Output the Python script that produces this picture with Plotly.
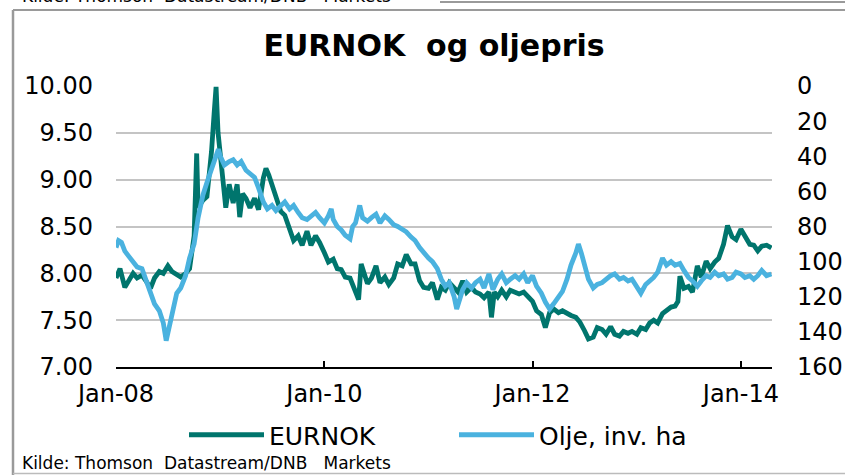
import plotly.graph_objects as go

# ---------------- data ----------------
eur_dates = [
    "2008-01-01", "2008-01-15", "2008-02-01", "2008-02-15", "2008-03-01", "2008-03-15",
    "2008-04-01", "2008-04-15", "2008-05-01", "2008-05-15", "2008-06-01", "2008-06-15",
    "2008-07-01", "2008-07-15", "2008-08-01", "2008-08-15", "2008-09-01", "2008-09-15",
    "2008-10-01", "2008-10-10", "2008-10-15", "2008-11-01", "2008-11-15", "2008-12-01",
    "2008-12-10", "2008-12-17", "2008-12-24", "2009-01-01", "2009-01-10", "2009-01-20",
    "2009-02-01", "2009-02-15", "2009-03-01", "2009-03-10", "2009-03-20", "2009-04-01",
    "2009-04-15", "2009-05-01", "2009-05-15", "2009-06-01", "2009-06-10", "2009-06-20",
    "2009-07-01", "2009-07-15", "2009-08-01", "2009-08-15", "2009-09-01", "2009-09-15",
    "2009-10-01", "2009-10-15", "2009-11-01", "2009-11-15", "2009-12-01", "2009-12-15",
    "2010-01-01", "2010-01-15", "2010-02-01", "2010-02-15", "2010-03-01", "2010-03-15",
    "2010-04-01", "2010-04-15", "2010-05-01", "2010-05-10", "2010-05-20", "2010-06-01",
    "2010-06-15", "2010-07-01", "2010-07-15", "2010-08-01", "2010-08-15", "2010-09-01",
    "2010-09-15", "2010-10-01", "2010-10-15", "2010-11-01", "2010-11-15", "2010-12-01",
    "2010-12-15", "2011-01-01", "2011-01-15", "2011-02-01", "2011-02-15", "2011-03-01",
    "2011-03-15", "2011-04-01", "2011-04-15", "2011-05-01", "2011-05-15", "2011-06-01",
    "2011-06-15", "2011-07-01", "2011-07-15", "2011-08-01", "2011-08-10", "2011-08-20",
    "2011-09-01", "2011-09-15", "2011-10-01", "2011-10-15", "2011-11-01", "2011-11-15",
    "2011-12-01", "2011-12-15", "2012-01-01", "2012-01-15", "2012-02-01", "2012-02-15",
    "2012-03-01", "2012-03-15", "2012-04-01", "2012-04-15", "2012-05-01", "2012-05-15",
    "2012-06-01", "2012-06-15", "2012-07-01", "2012-07-15", "2012-08-01", "2012-08-15",
    "2012-09-01", "2012-09-15", "2012-10-01", "2012-10-15", "2012-11-01", "2012-11-15",
    "2012-12-01", "2012-12-15", "2013-01-01", "2013-01-15", "2013-02-01", "2013-02-15",
    "2013-03-01", "2013-03-15", "2013-04-01", "2013-04-15", "2013-05-01", "2013-05-15",
    "2013-05-25", "2013-06-01", "2013-06-15", "2013-07-01", "2013-07-15", "2013-08-01",
    "2013-08-15", "2013-09-01", "2013-09-15", "2013-10-01", "2013-10-15", "2013-11-01",
    "2013-11-15", "2013-12-01", "2013-12-15", "2014-01-01", "2014-01-15", "2014-02-01",
    "2014-02-15", "2014-03-01", "2014-03-15", "2014-04-01", "2014-04-18",
]
eurnok = [
    7.95, 8.05, 7.85, 7.92, 8.00, 7.95,
    7.98, 7.92, 7.84, 7.95, 8.02, 8.00,
    8.08, 8.02, 7.98, 7.96, 8.00, 8.05,
    8.40, 9.28, 8.70, 8.78, 8.82, 9.30,
    9.70, 9.99, 9.50, 9.30, 9.00, 8.70,
    8.95, 8.75, 8.95, 8.60, 8.85, 8.80,
    8.70, 8.80, 8.68, 9.02, 9.12, 9.05,
    8.95, 8.80, 8.66, 8.62, 8.45, 8.35,
    8.40, 8.30, 8.45, 8.30, 8.40, 8.33,
    8.22, 8.12, 8.15, 8.05, 8.04, 7.96,
    7.95, 7.85, 7.72, 8.10, 8.00, 7.89,
    7.95, 8.08, 7.90, 7.96, 7.88, 7.95,
    8.10, 8.08, 8.20, 8.10, 8.10, 7.92,
    7.85, 7.84, 7.90, 7.72, 7.85, 7.82,
    7.90, 7.85, 7.80, 7.92, 7.80, 7.85,
    7.80, 7.78, 7.74, 7.80, 7.53, 7.80,
    7.75, 7.82, 7.75, 7.82, 7.80, 7.78,
    7.80, 7.75, 7.70, 7.60, 7.56, 7.42,
    7.58, 7.62, 7.58, 7.60, 7.57, 7.55,
    7.53, 7.48, 7.39, 7.30, 7.32, 7.42,
    7.40, 7.35, 7.43, 7.35, 7.33, 7.38,
    7.36, 7.38, 7.35, 7.42, 7.40, 7.47,
    7.50, 7.47, 7.57, 7.60, 7.64, 7.65,
    7.70, 7.97, 7.84, 7.86, 7.80, 8.08,
    7.96, 8.13, 8.05, 8.12, 8.16, 8.31,
    8.51, 8.39, 8.36, 8.47, 8.40, 8.31,
    8.30, 8.24, 8.29, 8.30, 8.27,
]

oil_dates = [
    "2008-01-01", "2008-01-10", "2008-01-20", "2008-02-01", "2008-02-15", "2008-03-01",
    "2008-03-15", "2008-04-01", "2008-04-15", "2008-05-01", "2008-05-15", "2008-06-01",
    "2008-06-15", "2008-06-25", "2008-07-05", "2008-07-15", "2008-08-01", "2008-08-15",
    "2008-09-01", "2008-09-15", "2008-10-01", "2008-10-15", "2008-11-01", "2008-11-15",
    "2008-12-01", "2008-12-15", "2008-12-25", "2009-01-01", "2009-01-15", "2009-02-01",
    "2009-02-15", "2009-03-01", "2009-03-15", "2009-04-01", "2009-04-15", "2009-05-01",
    "2009-05-15", "2009-06-01", "2009-06-15", "2009-07-01", "2009-07-15", "2009-08-01",
    "2009-08-15", "2009-09-01", "2009-09-15", "2009-10-01", "2009-10-15", "2009-11-01",
    "2009-11-15", "2009-12-01", "2009-12-15", "2010-01-01", "2010-01-15", "2010-01-25",
    "2010-02-01", "2010-02-15", "2010-03-01", "2010-03-15", "2010-04-01", "2010-04-10",
    "2010-04-20", "2010-05-01", "2010-05-05", "2010-05-15", "2010-06-01", "2010-06-15",
    "2010-07-01", "2010-07-15", "2010-08-01", "2010-08-15", "2010-09-01", "2010-09-15",
    "2010-10-01", "2010-10-15", "2010-11-01", "2010-11-15", "2010-12-01", "2010-12-15",
    "2011-01-01", "2011-01-15", "2011-02-01", "2011-02-15", "2011-03-01", "2011-03-15",
    "2011-04-01", "2011-04-10", "2011-04-20", "2011-05-01", "2011-05-15", "2011-06-01",
    "2011-06-15", "2011-07-01", "2011-07-15", "2011-08-01", "2011-08-15", "2011-09-01",
    "2011-09-15", "2011-10-01", "2011-10-15", "2011-11-01", "2011-11-15", "2011-12-01",
    "2011-12-15", "2012-01-01", "2012-01-15", "2012-02-01", "2012-02-15", "2012-03-01",
    "2012-03-15", "2012-04-01", "2012-04-15", "2012-05-01", "2012-05-15", "2012-06-01",
    "2012-06-10", "2012-06-20", "2012-07-01", "2012-07-15", "2012-08-01", "2012-08-15",
    "2012-09-01", "2012-09-15", "2012-10-01", "2012-10-15", "2012-11-01", "2012-11-15",
    "2012-12-01", "2012-12-15", "2013-01-01", "2013-01-15", "2013-02-01", "2013-02-15",
    "2013-03-01", "2013-03-15", "2013-04-01", "2013-04-15", "2013-05-01", "2013-05-15",
    "2013-06-01", "2013-06-15", "2013-07-01", "2013-07-15", "2013-08-01", "2013-08-15",
    "2013-09-01", "2013-09-15", "2013-10-01", "2013-10-15", "2013-11-01", "2013-11-15",
    "2013-12-01", "2013-12-15", "2014-01-01", "2014-01-15", "2014-02-01", "2014-02-15",
    "2014-03-01", "2014-03-15", "2014-04-01", "2014-04-18",
]
oil = [
    92, 88, 89, 94, 97, 100,
    103, 104, 110, 118, 124, 128,
    135, 145, 138, 128, 118, 115,
    108, 98, 90, 75, 62, 55,
    48, 40, 36, 40, 45, 43,
    42, 45, 43, 48, 50, 52,
    58, 66, 70, 68, 71, 68,
    66, 70, 68, 72, 75, 76,
    74, 72, 75, 78, 74, 70,
    76, 80, 82, 85, 87, 80,
    78, 70, 68, 75, 77, 75,
    73, 78, 74, 76, 79, 80,
    82, 83, 86, 88, 92, 95,
    98, 100, 104, 110, 114, 112,
    120, 127, 122, 116, 112, 115,
    112, 110, 115, 107, 116, 110,
    107, 112, 110, 108, 110, 107,
    112, 108, 114, 118, 123, 127,
    124, 120, 117, 110, 102, 95,
    90, 95, 102, 110, 115, 113,
    112, 110, 108, 107, 110, 109,
    111, 110, 114, 118, 113, 111,
    109, 106, 98, 102, 100, 102,
    101, 105, 109, 111, 114, 111,
    108, 109, 106, 108, 107, 110,
    109, 106, 107, 109, 108, 110,
    108, 105, 108, 107,
]

left_ticks = [7.0, 7.5, 8.0, 8.5, 9.0, 9.5, 10.0]
right_ticks = [0, 20, 40, 60, 80, 100, 120, 140, 160]
x_tick_dates = ["2008-01-01", "2010-01-01", "2012-01-01", "2014-01-01"]
x_tick_text = ["Jan-08", "Jan-10", "Jan-12", "Jan-14"]

title_text = "EURNOK  og oljepris"
source_text = "Kilde: Thomson  Datastream/DNB   Markets"
name_eur = "EURNOK"
name_oil = "Olje, inv. ha"

# ---------------- layout geometry (page pixels) ----------------
W, H = 845, 475
L, R, T, B = 116, 772, 86, 367
PW, PH = R - L, B - T


def fx(px):
    return (px - L) / PW


def fy(py):
    return (B - py) / PH


FONT = "DejaVu Sans"
TEAL = "#00756D"
BLUE = "#4AB2DF"
GRID = "#C4C4C4"
FRAME = "#9A9A9A"

fig = go.Figure()
fig.add_trace(go.Scatter(x=eur_dates, y=eurnok, name=name_eur, mode="lines",
                         line=dict(color=TEAL, width=4.8), yaxis="y"))
fig.add_trace(go.Scatter(x=oil_dates, y=oil, name=name_oil, mode="lines",
                         line=dict(color=BLUE, width=4.8), yaxis="y2"))

fig.update_layout(
    template="none",
    width=W, height=H, autosize=False,
    margin=dict(l=L, r=W - R, t=T, b=H - B, pad=0, autoexpand=False),
    paper_bgcolor="white", plot_bgcolor="white",
    font=dict(family=FONT, color="black", size=24),
    title=dict(text="<b>" + title_text + "</b>", x=434 / W, xanchor="center",
               y=1 - 45 / H, yanchor="middle", font=dict(size=30, family=FONT)),
    xaxis=dict(
        type="date", range=["2008-01-01", "2014-04-20"], automargin=False,
        tickmode="array", tickvals=x_tick_dates, ticktext=x_tick_text,
        ticks="inside", ticklen=6, tickwidth=2, tickcolor="black",
        showline=True, linecolor="black", linewidth=2,
        showgrid=False, zeroline=False, ticklabelstandoff=4,
        tickfont=dict(size=24),
    ),
    yaxis=dict(
        range=[7, 10], tickmode="array", tickvals=left_ticks, automargin=False,
        tickformat=".2f", showgrid=True, gridcolor=GRID, gridwidth=1.5,
        zeroline=False, showline=False, ticks="", ticklabelstandoff=22,
        tickfont=dict(size=24),
    ),
    yaxis2=dict(
        range=[160, 0], overlaying="y", side="right", tickmode="array",
        tickvals=right_ticks, showgrid=False, zeroline=False, showline=False,
        automargin=False, ticks="", ticklabelstandoff=24, tickfont=dict(size=24),
    ),
    legend=dict(orientation="h", x=fx(454), xanchor="center", y=fy(435),
                yanchor="middle", font=dict(size=25), bgcolor="rgba(0,0,0,0)",
                itemwidth=75, entrywidth=180),
    showlegend=True,
)

# frame lines of the clipped slide
shapes = [
    dict(type="line", xref="paper", yref="paper", x0=fx(440), x1=fx(845),
         y0=fy(2), y1=fy(2), line=dict(color=FRAME, width=2)),
    dict(type="line", xref="paper", yref="paper", x0=fx(13), x1=fx(845),
         y0=fy(10), y1=fy(10), line=dict(color=FRAME, width=2)),
    dict(type="line", xref="paper", yref="paper", x0=fx(13), x1=fx(13),
         y0=fy(10), y1=fy(476), line=dict(color=FRAME, width=2.5)),
    dict(type="line", xref="paper", yref="paper", x0=fx(13), x1=fx(845),
         y0=fy(473.5), y1=fy(473.5), line=dict(color="#BBBBBB", width=1.5)),
]
fig.update_layout(shapes=shapes)

fig.add_annotation(text=source_text, xref="paper", yref="paper", x=fx(20), xanchor="left",
                   y=fy(-4), yanchor="middle", showarrow=False,
                   font=dict(size=17, family=FONT, color="black"))
fig.add_annotation(text=source_text, xref="paper", yref="paper", x=fx(20), xanchor="left",
                   y=fy(463), yanchor="middle", showarrow=False,
                   font=dict(size=17, family=FONT, color="black"))

fig.write_html("out.html", config={"displayModeBar": False},
               post_script="document.body.style.margin='0px';")
